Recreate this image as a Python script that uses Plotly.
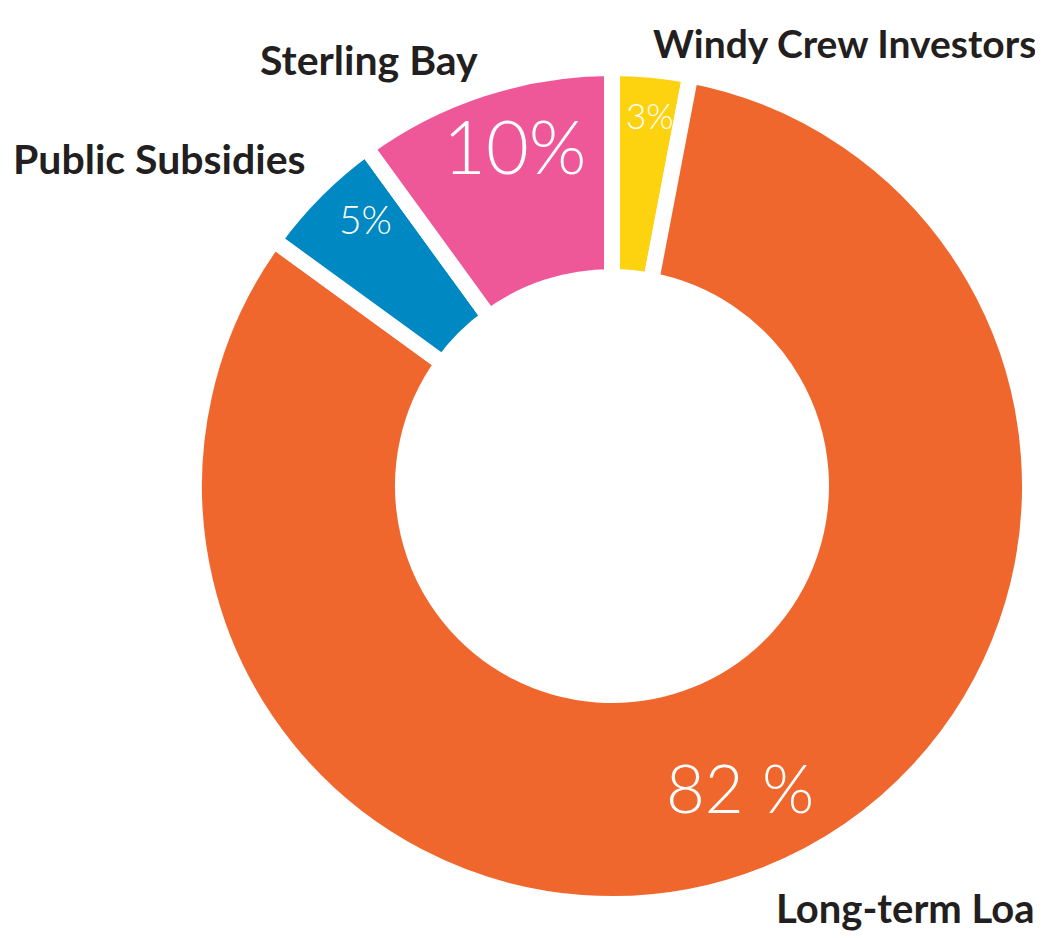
import math
import plotly.graph_objects as go

categories = ["Windy Crew Investors", "Long-term Loans", "Public Subsidies", "Sterling Bay"]
values = [3, 82, 5, 10]
pct_text = ["3%", "82 %", "5%", "10%"]
colors = ["#FDD20E", "#F0672E", "#0088C2", "#EF5898"]

# styling
pct_sizes = [35, 67, 39, 74]
pct_radial = [0.891, 0.782, 0.869, 0.846]   # fraction of pie radius for % labels
pct_nudge = [0.4, -1.4, 2.3, 2.1]            # degrees of angular nudge from mid-angle
label_sizes = [39, 40, 41, 41]
W, H = 1043, 938
OFF = 8                    # page body margin offset
CX, CY, R = 612 - OFF, 486 - OFF, 418

fig = go.Figure(go.Pie(
    labels=categories,
    values=values,
    textinfo="none",
    marker=dict(colors=colors, line=dict(color="white", width=16)),
    hole=0.5,
    sort=False,
    direction="clockwise",
    rotation=0,
    showlegend=False,
    hoverinfo="label+value",
    domain=dict(x=[(CX - R) / W, (CX + R) / W],
                y=[(H - CY - R) / H, (H - CY + R) / H]),
))

# percentage labels placed around each slice's mid-angle
total = sum(values)
cum = 0
for v, t, s, rf, nd in zip(values, pct_text, pct_sizes, pct_radial, pct_nudge):
    mid = (cum + v / 2) / total * 2 * math.pi + math.radians(nd)
    cum += v
    px = CX + rf * R * math.sin(mid)
    py = CY - rf * R * math.cos(mid)
    fig.add_annotation(
        text=t, x=px / W, y=1 - py / H, xref="paper", yref="paper",
        xanchor="center", yanchor="middle", showarrow=False,
        font=dict(family="Lato", size=s, color="white", weight=300),
    )

# outside category labels (pixels: left x, center y)
label_pos = {
    "Windy Crew Investors": (655, 45),
    "Long-term Loans": (778, 910),
    "Public Subsidies": (15, 160),
    "Sterling Bay": (262, 62),
}
for name, fs in zip(categories, label_sizes):
    px, py = label_pos[name]
    fig.add_annotation(
        text=name, x=(px - 12) / W, y=1 - (py - 10) / H, xref="paper", yref="paper",
        xanchor="left", yanchor="middle", showarrow=False,
        font=dict(family="Lato", size=fs, color="#231F20", weight="bold"),
    )

fig.update_layout(
    width=W, height=H,
    margin=dict(l=0, r=0, t=0, b=0),
    paper_bgcolor="white", plot_bgcolor="white",
)

fig.write_html("out.html")
